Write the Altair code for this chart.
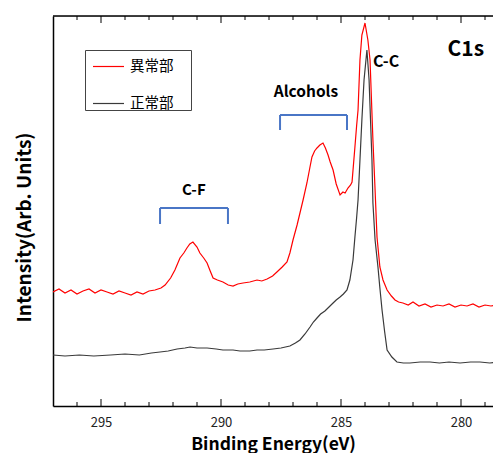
import altair as alt
import pandas as pd

# ---- data ----
red_energy = [297.0, 296.75, 296.5, 296.25, 296.0, 295.75, 295.5, 295.25, 295.0, 294.75, 294.5, 294.25,
              294.0, 293.75, 293.5, 293.25, 293.0, 292.75, 292.5, 292.33, 292.1, 291.92, 291.71, 291.55,
              291.42, 291.3, 291.17, 291.0, 290.88, 290.72, 290.58, 290.45, 290.33, 290.15, 289.92, 289.7,
              289.5, 289.3, 289.08, 288.8, 288.5, 288.3, 288.08, 287.85, 287.67, 287.45, 287.25, 287.13,
              287.0, 286.83, 286.7, 286.58, 286.42, 286.3, 286.21, 286.1, 286.0, 285.88, 285.75, 285.65,
              285.54, 285.45, 285.33, 285.2, 285.04, 284.92, 284.83, 284.71, 284.6, 284.54, 284.42, 284.35,
              284.29, 284.21, 284.13, 284.0, 283.88, 283.79, 283.67, 283.58, 283.5, 283.38, 283.25, 283.08,
              282.9, 282.75, 282.6, 282.42, 282.2, 282.0, 281.75, 281.5, 281.25, 281.0, 280.75, 280.5,
              280.25, 280.0, 279.75, 279.5, 279.25, 279.0, 278.75, 278.5, 278.25, 278.0]
red_value = [114, 117, 113, 116, 112, 115, 117, 113, 116, 114, 112, 115,
             113, 111, 114, 112, 115, 116, 118, 121, 128, 136, 148, 153,
             158, 162, 164, 159, 153, 148, 143, 135, 128, 126, 124, 121,
             120, 122, 123, 124, 126, 125, 127, 130, 134, 139, 144, 153,
             166, 181, 194, 206, 223, 238, 249, 255, 258, 261, 263, 258,
             251, 244, 236, 222, 211, 214, 213, 218, 221, 224, 259, 280,
             296, 346, 371, 383, 366, 346, 266, 216, 169, 139, 126, 116,
             110, 106, 104, 103, 101, 104, 100, 102, 99, 101, 100, 102,
             99, 101, 100, 102, 99, 101, 100, 101, 99, 100]

black_energy = [297.0, 296.5, 295.9, 295.3, 294.6, 294.0, 293.4, 292.9, 292.54, 292.2, 291.83, 291.5,
                291.29, 291.0, 290.58, 290.2, 289.92, 289.5, 289.21, 288.8, 288.5, 288.2, 287.83, 287.5,
                287.13, 286.9, 286.71, 286.5, 286.29, 286.15, 286.0, 285.85, 285.67, 285.5, 285.33, 285.2,
                285.04, 284.9, 284.75, 284.63, 284.5, 284.42, 284.35, 284.29, 284.21, 284.13, 284.04, 283.92,
                283.83, 283.71, 283.67, 283.58, 283.46, 283.38, 283.29, 283.18, 283.08, 282.88, 282.67, 282.4,
                282.13, 281.7, 281.29, 280.9, 280.5, 280.04, 279.6, 279.21, 278.8, 278.4, 278.0]
black_value = [51, 50, 51, 50, 51, 52, 51, 53, 54, 55, 57, 58,
               59, 58, 58, 57, 56, 56, 55, 55, 56, 56, 57, 58,
               60, 63, 66, 72, 79, 84, 88, 92, 95, 99, 103, 106,
               109, 112, 116, 126, 146, 169, 188, 206, 246, 286, 326, 356,
               326, 246, 203, 166, 139, 118, 96, 74, 56, 49, 44, 43,
               43, 44, 44, 43, 44, 43, 44, 44, 43, 44, 43]

series_names = ["異常部", "正常部"]
series_colors = ["#ff0000", "#3a3a3a"]

x_labels = [295, 290, 285, 280]
minor_ticks = list(range(279, 297))

# brackets: [left energy, right energy, top value, leg bottom value]
bracket_left = [292.54, 287.54]
bracket_right = [289.71, 284.75]
bracket_top = [198, 291]
bracket_bottom = [182, 276]

ann_text = ["C-F", "Alcohols", "C-C", "C1s"]
ann_energy = [291.13, 286.46, 283.12, 279.8]
ann_value = [216, 314, 344, 356]
ann_size = [15, 15.5, 16, 21]

W, H = 440, 390
X_MIN = 297 - W / 24.0

df = pd.concat([
    pd.DataFrame({"energy": red_energy, "value": red_value, "series": series_names[0]}),
    pd.DataFrame({"energy": black_energy, "value": black_value, "series": series_names[1]}),
])

xscale = alt.Scale(domain=[X_MIN, 297], reverse=True, nice=False, zero=False)
yscale = alt.Scale(domain=[0, 390], nice=False, zero=False)

font = "Noto Sans CJK JP"

lines = alt.Chart(df).mark_line(strokeWidth=1.2, clip=True).encode(
    x=alt.X("energy:Q", scale=xscale,
            axis=alt.Axis(values=x_labels, ticks=False, grid=False, domainColor="black",
                          domainWidth=1.5, labelFont=font, labelFontSize=13, labelColor="#222",
                          labelPadding=10, title="Binding Energy(eV)", titleFont=font,
                          titleFontSize=17.5, titleFontWeight="bold", titleColor="black",
                          titleBaseline="alphabetic", titleY=43)),
    y=alt.Y("value:Q", scale=yscale,
            axis=alt.Axis(labels=False, ticks=False, grid=False, domainColor="black",
                          domainWidth=1.5, title="Intensity(Arb. Units)", titleFont=font,
                          titleFontSize=19, titleFontWeight="bold", titleColor="black",
                          titleBaseline="bottom", titleX=-19, titleY=211, titleAlign="center")),
    color=alt.Color("series:N", scale=alt.Scale(domain=series_names, range=series_colors),
                    legend=alt.Legend(orient="none", legendX=32, legendY=34,
                                      title="ーー", titleOrient="right",
                                      titleColor="white", titleFontSize=9, titlePadding=0,
                                      symbolType="stroke", symbolSize=961, symbolStrokeWidth=1.2,
                                      strokeColor="#444", fillColor="white", padding=0,
                                      rowPadding=14, symbolOffset=7, labelOffset=5,
                                      labelFont=font, labelFontSize=14.5,
                                      labelColor="black")),
)

tick_df = pd.DataFrame({"e": minor_ticks, "major": [t in x_labels for t in minor_ticks]})
minor_df = tick_df[~tick_df["major"]]
major_df = tick_df[tick_df["major"]]


def ticks(data, y1, y2):
    return alt.Chart(data).mark_rule(color="black", strokeWidth=1).encode(
        x=alt.X("e:Q", scale=xscale), y=alt.value(y1), y2=alt.value(y2))


tick_layers = [ticks(minor_df, H, H - 4), ticks(minor_df, 0, 4),
               ticks(major_df, H, H - 7), ticks(major_df, 0, 7)]

top_frame = alt.Chart(pd.DataFrame({"a": [0]})).mark_rule(color="black", strokeWidth=1.5).encode(
    x=alt.value(0), x2=alt.value(W), y=alt.value(0))

br = pd.DataFrame({"l": bracket_left, "r": bracket_right, "t": bracket_top, "b": bracket_bottom})
bcolor = "#4a76c6"
br_h = alt.Chart(br).mark_rule(color=bcolor, strokeWidth=2).encode(
    x=alt.X("l:Q", scale=xscale), x2="r:Q", y=alt.Y("t:Q", scale=yscale))
br_l = alt.Chart(br).mark_rule(color=bcolor, strokeWidth=2).encode(
    x=alt.X("l:Q", scale=xscale), y=alt.Y("t:Q", scale=yscale), y2="b:Q")
br_r = alt.Chart(br).mark_rule(color=bcolor, strokeWidth=2).encode(
    x=alt.X("r:Q", scale=xscale), y=alt.Y("t:Q", scale=yscale), y2="b:Q")

ann = pd.DataFrame({"text": ann_text, "energy": ann_energy, "value": ann_value, "size": ann_size})
texts = alt.Chart(ann).mark_text(font=font, fontWeight="bold", color="black").encode(
    x=alt.X("energy:Q", scale=xscale), y=alt.Y("value:Q", scale=yscale),
    text="text:N", size=alt.Size("size:Q", scale=None, legend=None))

chart = alt.layer(lines, *tick_layers, top_frame, br_h, br_l, br_r, texts).properties(
    width=W, height=H,
    autosize=alt.AutoSizeParams(type="none"),
    padding={"left": 45, "top": 8, "right": 0, "bottom": 47},
).configure_view(stroke=None).configure(background="white")

chart.save("out.html", embed_options={"renderer": "svg", "actions": False})
